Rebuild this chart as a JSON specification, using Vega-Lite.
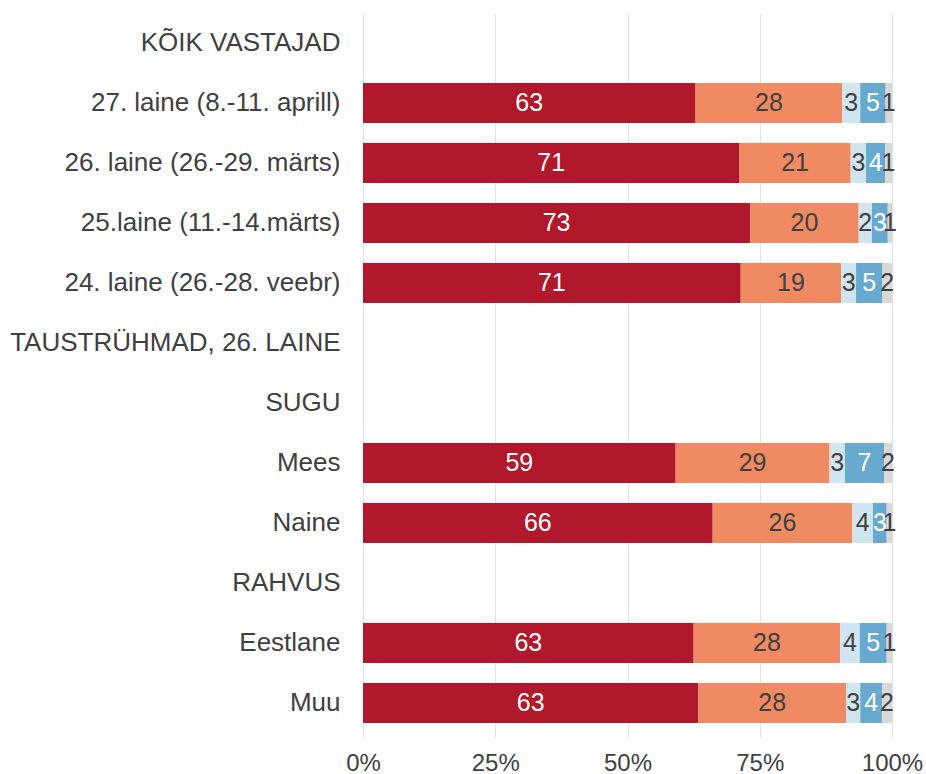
{
  "$schema": "https://vega.github.io/schema/vega-lite/v6.json",
  "width": 529,
  "height": 720,
  "autosize": {"type": "none"},
  "padding": {"left": 363, "top": 13, "right": 34, "bottom": 41},
  "background": "white",
  "config": {
    "view": {"stroke": null},
    "font": "Liberation Sans",
    "axis": {"labelFont": "Liberation Sans", "labelColor": "#404040"}
  },
  "data": {
    "values": [
      {"grupp": "27. laine (8.-11. aprill)", "k": 1, "v": 62.8, "lbl": "63"},
      {"grupp": "27. laine (8.-11. aprill)", "k": 2, "v": 27.7, "lbl": "28"},
      {"grupp": "27. laine (8.-11. aprill)", "k": 3, "v": 3.4, "lbl": "3"},
      {"grupp": "27. laine (8.-11. aprill)", "k": 4, "v": 4.8, "lbl": "5"},
      {"grupp": "27. laine (8.-11. aprill)", "k": 5, "v": 1.2, "lbl": "1"},
      {"grupp": "26. laine (26.-29. märts)", "k": 1, "v": 71.1, "lbl": "71"},
      {"grupp": "26. laine (26.-29. märts)", "k": 2, "v": 21.0, "lbl": "21"},
      {"grupp": "26. laine (26.-29. märts)", "k": 3, "v": 2.9, "lbl": "3"},
      {"grupp": "26. laine (26.-29. märts)", "k": 4, "v": 3.6, "lbl": "4"},
      {"grupp": "26. laine (26.-29. märts)", "k": 5, "v": 1.3, "lbl": "1"},
      {"grupp": "25.laine (11.-14.märts)", "k": 1, "v": 73.2, "lbl": "73"},
      {"grupp": "25.laine (11.-14.märts)", "k": 2, "v": 20.5, "lbl": "20"},
      {"grupp": "25.laine (11.-14.märts)", "k": 3, "v": 2.5, "lbl": "2"},
      {"grupp": "25.laine (11.-14.märts)", "k": 4, "v": 3.0, "lbl": "3"},
      {"grupp": "25.laine (11.-14.märts)", "k": 5, "v": 0.8, "lbl": "1"},
      {"grupp": "24. laine (26.-28. veebr)", "k": 1, "v": 71.4, "lbl": "71"},
      {"grupp": "24. laine (26.-28. veebr)", "k": 2, "v": 19.0, "lbl": "19"},
      {"grupp": "24. laine (26.-28. veebr)", "k": 3, "v": 2.8, "lbl": "3"},
      {"grupp": "24. laine (26.-28. veebr)", "k": 4, "v": 5.0, "lbl": "5"},
      {"grupp": "24. laine (26.-28. veebr)", "k": 5, "v": 1.8, "lbl": "2"},
      {"grupp": "Mees", "k": 1, "v": 59.1, "lbl": "59"},
      {"grupp": "Mees", "k": 2, "v": 29.1, "lbl": "29"},
      {"grupp": "Mees", "k": 3, "v": 2.9, "lbl": "3"},
      {"grupp": "Mees", "k": 4, "v": 7.4, "lbl": "7"},
      {"grupp": "Mees", "k": 5, "v": 1.5, "lbl": "2"},
      {"grupp": "Naine", "k": 1, "v": 66.1, "lbl": "66"},
      {"grupp": "Naine", "k": 2, "v": 26.4, "lbl": "26"},
      {"grupp": "Naine", "k": 3, "v": 3.9, "lbl": "4"},
      {"grupp": "Naine", "k": 4, "v": 2.6, "lbl": "3"},
      {"grupp": "Naine", "k": 5, "v": 1.0, "lbl": "1"},
      {"grupp": "Eestlane", "k": 1, "v": 62.5, "lbl": "63"},
      {"grupp": "Eestlane", "k": 2, "v": 27.7, "lbl": "28"},
      {"grupp": "Eestlane", "k": 3, "v": 3.7, "lbl": "4"},
      {"grupp": "Eestlane", "k": 4, "v": 5.1, "lbl": "5"},
      {"grupp": "Eestlane", "k": 5, "v": 1.0, "lbl": "1"},
      {"grupp": "Muu", "k": 1, "v": 63.4, "lbl": "63"},
      {"grupp": "Muu", "k": 2, "v": 27.9, "lbl": "28"},
      {"grupp": "Muu", "k": 3, "v": 2.7, "lbl": "3"},
      {"grupp": "Muu", "k": 4, "v": 4.1, "lbl": "4"},
      {"grupp": "Muu", "k": 5, "v": 1.9, "lbl": "2"}
    ]
  },
  "encoding": {
    "y": {
      "field": "grupp",
      "type": "nominal",
      "title": null,
      "scale": {
        "domain": ["KÕIK VASTAJAD", "27. laine (8.-11. aprill)", "26. laine (26.-29. märts)", "25.laine (11.-14.märts)", "24. laine (26.-28. veebr)", "TAUSTRÜHMAD, 26. LAINE", "SUGU", "Mees", "Naine", "RAHVUS", "Eestlane", "Muu"],
        "paddingInner": 0.333,
        "paddingOuter": 0.1667
      },
      "axis": {"domain": false, "ticks": false, "labelFontSize": 26, "labelPadding": 23, "labelLimit": 400}
    }
  },
  "layer": [
    {
      "mark": {"type": "bar"},
      "encoding": {
        "x": {
          "field": "v",
          "type": "quantitative",
          "stack": "normalize",
          "title": null,
          "scale": {"domain": [0, 1]},
          "axis": {"format": "%", "values": [0, 0.25, 0.5, 0.75, 1], "domain": false, "ticks": true, "tickSize": 4, "tickColor": "#D9D9D9", "gridColor": "#E0E0E0", "labelFontSize": 24, "labelPadding": 14, "labelFlush": false}
        },
        "color": {
          "field": "k",
          "type": "ordinal",
          "legend": null,
          "scale": {"domain": [1, 2, 3, 4, 5], "range": ["#B2182B", "#EF8A62", "#D1E5F0", "#67A9CF", "#D9D9D9"]}
        },
        "order": {"field": "k", "type": "quantitative", "sort": "ascending"}
      }
    },
    {
      "mark": {"type": "text", "fontSize": 25, "baseline": "middle", "align": "center"},
      "encoding": {
        "x": {"field": "v", "type": "quantitative", "stack": "normalize", "bandPosition": 0.5},
        "text": {"field": "lbl"},
        "order": {"field": "k", "type": "quantitative", "sort": "ascending"},
        "color": {
          "condition": {"test": "datum.k === 1 || datum.k === 4", "value": "white"},
          "value": "#404040"
        }
      }
    }
  ]
}
